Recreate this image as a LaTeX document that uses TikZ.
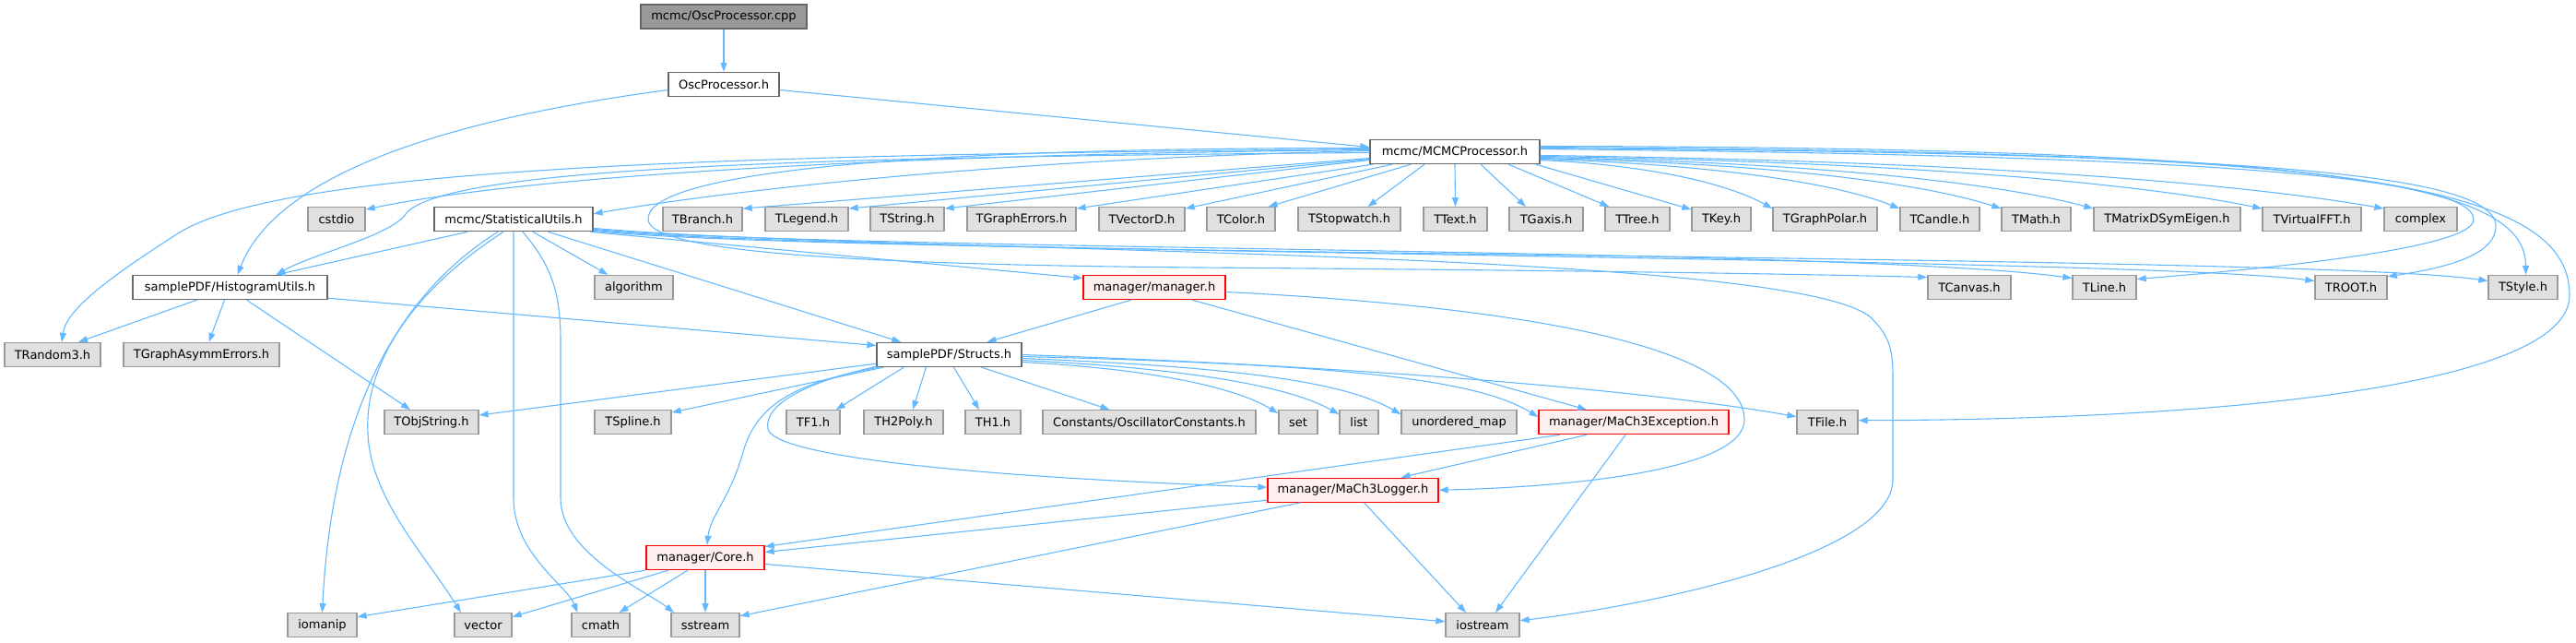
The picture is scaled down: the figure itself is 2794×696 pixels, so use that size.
\documentclass[tikz,border=0pt]{standalone}
\usepackage{fontspec}
\setmainfont{DejaVu Sans}
\usetikzlibrary{arrows.meta}
\definecolor{edgec}{HTML}{63B8FF}
\definecolor{grayfill}{HTML}{E0E0E0}
\definecolor{graydraw}{HTML}{999999}
\definecolor{topfill}{HTML}{999999}
\definecolor{darkdraw}{HTML}{666666}
\definecolor{redfill}{HTML}{FFF0F0}
\definecolor{reddraw}{HTML}{FF0000}
\begin{document}
\begin{tikzpicture}[x=1pt,y=-1pt,
 box/.style={rectangle, minimum height=26pt, inner sep=0pt, line width=1.3pt, font=\fontsize{13pt}{15pt}\selectfont},
 gbox/.style={box, fill=grayfill, draw=graydraw},
 wbox/.style={box, fill=white, draw=darkdraw},
 rbox/.style={box, fill=redfill, draw=reddraw},
 tbox/.style={box, fill=topfill, draw=darkdraw},
 dep/.style={draw=edgec, line width=1.1pt, -{Triangle[length=10pt,width=7pt]}}]
\useasboundingbox (0,0) rectangle (2794,696);
% row 1-3
\node[tbox,minimum width=180pt] (cpp) at (785,18) {mcmc/OscProcessor.cpp};
\node[wbox,minimum width=120pt] (osch) at (785,91.5) {OscProcessor.h};
\node[wbox,minimum width=184pt] (mcmc) at (1578,164.5) {mcmc/MCMCProcessor.h};
% row 4
\node[gbox,minimum width=62pt] (cstdio) at (365,237.7) {cstdio};
\node[wbox,minimum width=172pt] (stat) at (557,237.7) {mcmc/StatisticalUtils.h};
\node[gbox,minimum width=86pt] (TBranch) at (762,237.7) {TBranch.h};
\node[gbox,minimum width=90pt] (TLegend) at (875,237.7) {TLegend.h};
\node[gbox,minimum width=80pt] (TString) at (984,237.7) {TString.h};
\node[gbox,minimum width=118pt] (TGraphErrors) at (1108,237.7) {TGraphErrors.h};
\node[gbox,minimum width=93pt] (TVectorD) at (1238.5,237.7) {TVectorD.h};
\node[gbox,minimum width=74pt] (TColor) at (1346,237.7) {TColor.h};
\node[gbox,minimum width=111pt] (TStopwatch) at (1463.5,237.7) {TStopwatch.h};
\node[gbox,minimum width=69pt] (TText) at (1578.5,237.7) {TText.h};
\node[gbox,minimum width=80pt] (TGaxis) at (1677,237.7) {TGaxis.h};
\node[gbox,minimum width=70pt] (TTree) at (1776,237.7) {TTree.h};
\node[gbox,minimum width=64pt] (TKey) at (1867,237.7) {TKey.h};
\node[gbox,minimum width=113pt] (TGraphPolar) at (1979.5,237.7) {TGraphPolar.h};
\node[gbox,minimum width=86pt] (TCandle) at (2104,237.7) {TCandle.h};
\node[gbox,minimum width=75pt] (TMath) at (2208.5,237.7) {TMath.h};
\node[gbox,minimum width=159pt] (TMatrix) at (2350.5,237.7) {TMatrixDSymEigen.h};
\node[gbox,minimum width=107pt] (TVirtualFFT) at (2507.5,237.7) {TVirtualFFT.h};
\node[gbox,minimum width=79pt] (complex) at (2625.5,237.7) {complex};
% row 5
\node[wbox,minimum width=211pt] (Hist) at (249.5,311.5) {samplePDF/HistogramUtils.h};
\node[gbox,minimum width=85pt] (algorithm) at (687.5,311.5) {algorithm};
\node[rbox,minimum width=154pt] (manager) at (1252,311.5) {manager/manager.h};
\node[gbox,minimum width=90pt] (TCanvas) at (2136,311.5) {TCanvas.h};
\node[gbox,minimum width=69pt] (TLine) at (2282.5,311.5) {TLine.h};
\node[gbox,minimum width=78pt] (TROOT) at (2550,311.5) {TROOT.h};
\node[gbox,minimum width=75pt] (TStyle) at (2736.5,311.5) {TStyle.h};
% row 6
\node[gbox,minimum width=104pt] (TRandom3) at (57,384.5) {TRandom3.h};
\node[gbox,minimum width=169pt] (TGraphAsymm) at (218.5,384.5) {TGraphAsymmErrors.h};
\node[wbox,minimum width=157pt] (Structs) at (1029.5,384.5) {samplePDF/Structs.h};
% row 7
\node[gbox,minimum width=102pt] (TObjString) at (468,457.7) {TObjString.h};
\node[gbox,minimum width=83pt] (TSpline) at (686.5,457.7) {TSpline.h};
\node[gbox,minimum width=58pt] (TF1) at (882,457.7) {TF1.h};
\node[gbox,minimum width=86pt] (TH2Poly) at (980,457.7) {TH2Poly.h};
\node[gbox,minimum width=60pt] (TH1) at (1077,457.7) {TH1.h};
\node[gbox,minimum width=231pt] (Constants) at (1246.5,457.7) {Constants/OscillatorConstants.h};
\node[gbox,minimum width=42pt] (set) at (1408,457.7) {set};
\node[gbox,minimum width=42pt] (list) at (1474,457.7) {list};
\node[gbox,minimum width=125pt] (umap) at (1582.5,457.7) {unordered\_map};
\node[rbox,minimum width=206pt] (Exception) at (1772,457.7) {manager/MaCh3Exception.h};
\node[gbox,minimum width=66pt] (TFile) at (1982,457.7) {TFile.h};
% row 8-10
\node[rbox,minimum width=185pt] (Logger) at (1467.5,531.2) {manager/MaCh3Logger.h};
\node[rbox,minimum width=128pt] (Core) at (765,604.5) {manager/Core.h};
\node[gbox,minimum width=75pt] (iomanip) at (349.5,677.7) {iomanip};
\node[gbox,minimum width=62pt] (vector) at (524,677.7) {vector};
\node[gbox,minimum width=63pt] (cmath) at (651.5,677.7) {cmath};
\node[gbox,minimum width=74pt] (sstream) at (765,677.7) {sstream};
\node[gbox,minimum width=80pt] (iostream) at (1608,677.7) {iostream};

% --- edges ---
\draw[dep] (cpp) -- (osch);
\draw[dep] ([yshift=-6pt]osch.east) -- ([yshift=5pt]mcmc.west);
\draw[dep] ([yshift=-6pt]osch.west) .. controls (480,130) and (300,190) .. ([xshift=8pt]Hist.north);
% mcmc to the left
\draw[dep] ([yshift=2pt]mcmc.west) .. controls (900,168) and (550,195) .. ([yshift=-3pt]cstdio.north east);
\draw[dep] ([yshift=1pt]mcmc.west) .. controls (1100,172) and (800,205) .. ([yshift=6pt]stat.east);
\draw[dep] ([yshift=3pt]mcmc.west) .. controls (800,168) and (300,180) .. (190,255) .. controls (120,300) and (72,335) .. ([xshift=10pt]TRandom3.north);
\draw[dep] ([yshift=-1pt]mcmc.west) .. controls (900,170) and (480,180) .. (440,232) .. controls (425,255) and (340,275) .. ([xshift=50pt]Hist.north);
\draw[dep] ([yshift=4pt]mcmc.west) .. controls (950,160) and (700,190) .. (703,238) .. controls (705,275) and (950,287) .. (1300,290) .. controls (1700,293) and (1950,297) .. ([yshift=11pt]TCanvas.west);
% mcmc fan
\draw[dep] ([yshift=-7pt]mcmc.west) -- ([yshift=-2pt]TBranch.north east);
\draw[dep] ([yshift=-8pt]mcmc.west) -- ([yshift=-2pt]TLegend.north east);
\draw[dep] ([yshift=-9pt]mcmc.west) -- ([yshift=-2pt]TString.north east);
\draw[dep] ([xshift=4pt]mcmc.south west) -- ([yshift=-2pt]TGraphErrors.north east);
\draw[dep] ([xshift=25pt]mcmc.south west) -- ([yshift=-2pt]TVectorD.north east);
\draw[dep] ([xshift=45pt]mcmc.south west) -- ([xshift=-8pt]TColor.north east);
\draw[dep] ([xshift=-33pt]mcmc.south) -- ([xshift=20pt]TStopwatch.north);
\draw[dep] (mcmc.south) -- (TText.north);
\draw[dep] ([xshift=28pt]mcmc.south) -- ([xshift=-22pt]TGaxis.north);
\draw[dep] ([xshift=58pt]mcmc.south) -- ([xshift=5pt]TTree.north west);
\draw[dep] ([xshift=-5pt]mcmc.south east) -- ([yshift=-3pt]TKey.north west);
\draw[dep] ([yshift=-9pt]mcmc.east) .. controls (1810,180) and (1885,205) .. ([yshift=-2pt]TGraphPolar.north west);
\draw[dep] ([yshift=-8pt]mcmc.east) .. controls (1885,179) and (2003,203) .. ([yshift=-2pt]TCandle.north west);
\draw[dep] ([yshift=-7pt]mcmc.east) .. controls (1950,178) and (2096,202) .. ([yshift=-2pt]TMath.north west);
\draw[dep] ([yshift=-6pt]mcmc.east) .. controls (2000,177) and (2181,202) .. ([yshift=-2pt]TMatrix.north west);
\draw[dep] ([yshift=-5pt]mcmc.east) .. controls (2100,176) and (2336,202) .. ([yshift=-2pt]TVirtualFFT.north west);
\draw[dep] ([yshift=-4pt]mcmc.east) .. controls (2175,175) and (2449,202) .. ([yshift=-2pt]complex.north west);
% mcmc right loops
\draw[dep] ([yshift=3pt]mcmc.east) .. controls (2300,168) and (2683,185) .. (2683,238) .. controls (2683,270) and (2450,292) .. ([yshift=9pt]TLine.east);
\draw[dep] ([yshift=4pt]mcmc.east) .. controls (2350,166) and (2707,180) .. (2707,245) .. controls (2707,280) and (2640,292) .. ([yshift=-2pt]TROOT.north east);
\draw[dep] ([yshift=5pt]mcmc.east) .. controls (2450,165) and (2740,185) .. ([xshift=3pt]TStyle.north);
\draw[dep] ([yshift=6pt]mcmc.east) .. controls (2550,160) and (2787,200) .. (2787,320) .. controls (2787,420) and (2400,455) .. ([yshift=2pt]TFile.east);
% StatisticalUtils
\draw[dep] ([yshift=3pt]stat.south east) .. controls (900,272) and (2000,268) .. ([yshift=10pt]TLine.west);
\draw[dep] ([yshift=2pt]stat.south east) .. controls (900,275) and (2300,278) .. ([yshift=7pt]TROOT.west);
\draw[dep] ([yshift=1pt]stat.south east) .. controls (900,278) and (2500,275) .. ([yshift=7pt]TStyle.west);
\draw[dep] ([yshift=4pt]stat.south east) .. controls (950,275) and (1950,268) .. (2030,345) .. controls (2050,365) and (2053,380) .. (2053,410) -- (2053,520) .. controls (2053,600) and (1800,655) .. ([yshift=5pt]iostream.east);
\draw[dep] ([xshift=-3pt]stat.south east) -- ([yshift=10pt]manager.west);
\draw[dep] ([xshift=-49pt]stat.south east) -- ([xshift=27pt]Structs.north west);
\draw[dep] ([xshift=21pt]stat.south) -- ([xshift=-28pt]algorithm.north);
\draw[dep] ([xshift=-50pt]stat.south) -- ([xshift=50pt]Hist.north);
\draw[dep] ([xshift=-17pt]stat.south) .. controls (430,320) and (360,450) .. (iomanip.north);
\draw[dep] ([xshift=-11pt]stat.south) .. controls (440,320) and (395,400) .. (399,470) .. controls (402,540) and (460,600) .. ([xshift=-24pt]vector.north);
\draw[dep] (stat.south) -- (557,540) .. controls (557,600) and (615,635) .. ([xshift=-25pt]cmath.north);
\draw[dep] ([xshift=10pt]stat.south) .. controls (600,290) and (608,320) .. (608,370) -- (608,540) .. controls (608,600) and (700,640) .. ([xshift=-34pt]sstream.north);
% HistogramUtils
\draw[dep] ([xshift=-36pt]Hist.south) -- ([xshift=28pt]TRandom3.north);
\draw[dep] ([xshift=-6pt]Hist.south) -- ([xshift=8pt]TGraphAsymm.north);
\draw[dep] ([xshift=18pt]Hist.south) -- ([xshift=-23pt]TObjString.north);
\draw[dep] ([yshift=2pt]Hist.south east) -- ([yshift=10pt]Structs.west);
% manager
\draw[dep] ([xshift=-25pt]manager.south) -- ([xshift=41pt]Structs.north);
\draw[dep] ([xshift=41pt]manager.south) -- ([xshift=-51pt]Exception.north);
\draw[dep] ([yshift=-5pt]manager.east) .. controls (1700,335) and (1892,385) .. (1892,455) .. controls (1892,510) and (1700,528) .. (Logger.east);
% Structs
\draw[dep] ([yshift=4pt]Structs.south west) -- ([yshift=-6pt]TObjString.north east);
\draw[dep] ([xshift=8pt]Structs.south west) -- ([yshift=-3pt]TSpline.north east);
\draw[dep] ([xshift=30pt]Structs.south west) -- ([xshift=-5pt]TF1.north east);
\draw[dep] ([xshift=-25pt]Structs.south) -- ([xshift=10pt]TH2Poly.north);
\draw[dep] ([xshift=5pt]Structs.south) -- ([xshift=-15pt]TH1.north);
\draw[dep] ([xshift=35pt]Structs.south) -- ([xshift=-43pt]Constants.north);
\draw[dep] ([yshift=-8pt]Structs.east) .. controls (1250,400) and (1340,420) .. ([yshift=-4pt]set.north west);
\draw[dep] ([yshift=-6pt]Structs.east) .. controls (1300,400) and (1400,420) .. ([yshift=-5pt]list.north west);
\draw[dep] ([yshift=-4pt]Structs.east) .. controls (1350,398) and (1460,415) .. ([yshift=-5pt]umap.north west);
\draw[dep] ([yshift=-2pt]Structs.east) .. controls (1450,395) and (1600,410) .. ([yshift=-8pt]Exception.north west);
\draw[dep] (Structs.east) .. controls (1500,398) and (1800,425) .. ([yshift=6pt]TFile.west);
\draw[dep] ([xshift=3pt]Structs.south west) .. controls (860,415) and (820,440) .. (806,490) .. controls (792,540) and (770,560) .. ([xshift=2pt]Core.north);
\draw[dep] ([xshift=1pt,yshift=1pt]Structs.south west) .. controls (870,415) and (828,440) .. (833,465) .. controls (838,490) and (1000,515) .. ([yshift=3pt]Logger.west);
% Exception
\draw[dep] ([xshift=-80pt]Exception.south) -- ([yshift=12pt]Core.east);
\draw[dep] ([xshift=-51pt]Exception.south) -- ([xshift=52pt]Logger.north);
\draw[dep] ([xshift=-9pt]Exception.south) -- ([xshift=14pt]iostream.north);
% Logger
\draw[dep] ([yshift=-11pt]Logger.west) -- ([yshift=6pt]Core.east);
\draw[dep] ([xshift=12pt]Logger.south) -- ([xshift=-18pt]iostream.north);
\draw[dep] ([xshift=-57pt]Logger.south) -- ([yshift=10pt]sstream.east);
% Core
\draw[dep] (Core.south west) -- ([yshift=9pt]iomanip.east);
\draw[dep] ([xshift=-40pt]Core.south) -- ([yshift=9pt]vector.east);
\draw[dep] ([xshift=-19pt]Core.south) -- ([xshift=20pt]cmath.north);
\draw[dep] (Core.south) -- (sstream.north);
\draw[dep] ([yshift=-7pt]Core.east) -- ([yshift=4pt]iostream.west);
\end{tikzpicture}
\end{document}
